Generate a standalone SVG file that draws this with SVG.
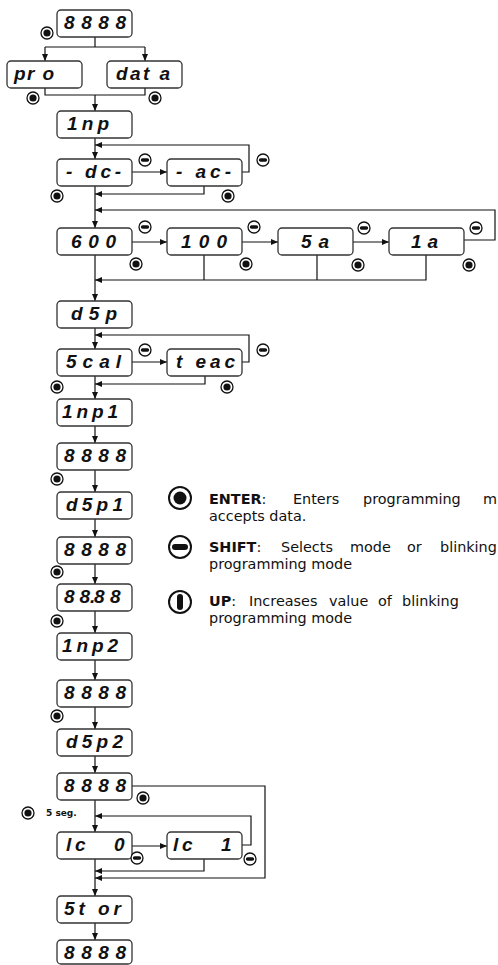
<svg xmlns="http://www.w3.org/2000/svg" width="498" height="965" viewBox="0 0 498 965">
<style>
.b{fill:#fff;stroke:#333;stroke-width:1.3}
.t{font-family:"Liberation Sans",Arial,sans-serif;font-weight:bold;font-style:italic;font-size:19px;fill:#111}
.c{fill:none;stroke:#111;stroke-width:1.2}
.ko{fill:#fff;stroke:#111;stroke-width:1.3}
.kd{fill:#111}
.lg{font-family:"DejaVu Sans",Verdana,sans-serif;font-size:14.4px;fill:#111}
.lb{font-weight:bold}
.sg{font-family:"DejaVu Sans",Verdana,sans-serif;font-size:9px;font-weight:bold;fill:#111}
</style>
<defs>
<marker id="a" markerWidth="7" markerHeight="6" refX="7" refY="3" orient="auto" markerUnits="userSpaceOnUse"><path d="M0,0 L7,3 L0,6 z" fill="#111"/></marker>
<g id="ent"><circle r="6" class="ko"/><circle r="3.6" class="kd"/></g>
<g id="sh"><circle r="6" class="ko"/><rect x="-4.2" y="-1.8" width="8.4" height="3.6" rx="1.8" class="kd"/></g>
</defs>

<g id="connectors">
<path class="c" d="M95 37 V47 M45 47 H145"/>
<path class="c" d="M45 47 V61" marker-end="url(#a)"/>
<path class="c" d="M145 47 V61" marker-end="url(#a)"/>
<path class="c" d="M45 88 V95 H145 V88"/>
<path class="c" d="M95 95 V111" marker-end="url(#a)"/>
<path class="c" d="M95 138 V159" marker-end="url(#a)"/>
<path class="c" d="M242 172 H249 V145 H95" marker-end="url(#a)"/>
<path class="c" d="M132 172 H167" marker-end="url(#a)"/>
<path class="c" d="M204 186 V194 H95" marker-end="url(#a)"/>
<path class="c" d="M95 186 V228" marker-end="url(#a)"/>
<path class="c" d="M464 240 H495 V210 H95" marker-end="url(#a)"/>
<path class="c" d="M132 242 H167" marker-end="url(#a)"/>
<path class="c" d="M242 242 H278" marker-end="url(#a)"/>
<path class="c" d="M353 242 H389" marker-end="url(#a)"/>
<path class="c" d="M204 255 V280 M317 255 V280"/>
<path class="c" d="M426 255 V280 H95" marker-end="url(#a)"/>
<path class="c" d="M95 255 V301" marker-end="url(#a)"/>
<path class="c" d="M95 328 V349" marker-end="url(#a)"/>
<path class="c" d="M242 362 H249 V335 H95" marker-end="url(#a)"/>
<path class="c" d="M132 362 H167" marker-end="url(#a)"/>
<path class="c" d="M205 376 V384 H95" marker-end="url(#a)"/>
<path class="c" d="M95 376 V399" marker-end="url(#a)"/>
<path class="c" d="M95 426 V443" marker-end="url(#a)"/>
<path class="c" d="M95 470 V492" marker-end="url(#a)"/>
<path class="c" d="M95 519 V537" marker-end="url(#a)"/>
<path class="c" d="M95 564 V584" marker-end="url(#a)"/>
<path class="c" d="M95 611 V633" marker-end="url(#a)"/>
<path class="c" d="M95 660 V680" marker-end="url(#a)"/>
<path class="c" d="M95 707 V729" marker-end="url(#a)"/>
<path class="c" d="M95 756 V773" marker-end="url(#a)"/>
<path class="c" d="M95 800 V832" marker-end="url(#a)"/>
<path class="c" d="M132 786 H265 V878 H95" marker-end="url(#a)"/>
<path class="c" d="M242 845 H251 V816 H95" marker-end="url(#a)"/>
<path class="c" d="M132 846 H167" marker-end="url(#a)"/>
<path class="c" d="M204 859 V871 H95" marker-end="url(#a)"/>
<path class="c" d="M95 859 V896" marker-end="url(#a)"/>
<path class="c" d="M95 923 V940" marker-end="url(#a)"/>
</g>

<g id="n-8888-top"><rect class="b" x="57" y="10" width="75" height="27" rx="4"/><text class="t" x="64" y="29" textLength="62">8888</text></g>
<g id="n-pro"><rect class="b" x="7" y="61" width="75" height="27" rx="4"/><text class="t" x="14" y="80" textLength="40">pr o</text></g>
<g id="n-data"><rect class="b" x="107" y="61" width="75" height="27" rx="4"/><text class="t" x="116" y="80" textLength="54">dat a</text></g>
<g id="n-1np"><rect class="b" x="57" y="111" width="75" height="27" rx="4"/><text class="t" x="67" y="130" textLength="42">1np</text></g>
<g id="n-dc"><rect class="b" x="57" y="159" width="75" height="27" rx="4"/><text class="t" x="66" y="178" textLength="55">- dc-</text></g>
<g id="n-ac"><rect class="b" x="167" y="159" width="75" height="27" rx="4"/><text class="t" x="176" y="178" textLength="55">- ac-</text></g>
<g id="n-600"><rect class="b" x="57" y="228" width="75" height="27" rx="4"/><text class="t" x="71" y="248" textLength="45">600</text></g>
<g id="n-100"><rect class="b" x="167" y="228" width="75" height="27" rx="4"/><text class="t" x="181" y="248" textLength="46">100</text></g>
<g id="n-5a"><rect class="b" x="278" y="228" width="75" height="27" rx="4"/><text class="t" x="301" y="248" textLength="28">5a</text></g>
<g id="n-1a"><rect class="b" x="389" y="228" width="75" height="27" rx="4"/><text class="t" x="411" y="248" textLength="27">1a</text></g>
<g id="n-d5p"><rect class="b" x="57" y="301" width="75" height="27" rx="4"/><text class="t" x="71" y="320" textLength="46">d5p</text></g>
<g id="n-5cal"><rect class="b" x="57" y="349" width="75" height="27" rx="4"/><text class="t" x="66" y="368" textLength="55">5cal</text></g>
<g id="n-teac"><rect class="b" x="167" y="349" width="75" height="27" rx="4"/><text class="t" x="176" y="368" textLength="59">t eac</text></g>
<g id="n-1np1"><rect class="b" x="57" y="399" width="75" height="27" rx="4"/><text class="t" x="62" y="418" textLength="56">1np1</text></g>
<g id="n-8888-b"><rect class="b" x="57" y="443" width="75" height="27" rx="4"/><text class="t" x="64" y="462" textLength="62">8888</text></g>
<g id="n-d5p1"><rect class="b" x="57" y="492" width="75" height="27" rx="4"/><text class="t" x="66" y="511" textLength="57">d5p1</text></g>
<g id="n-8888-c"><rect class="b" x="57" y="537" width="75" height="27" rx="4"/><text class="t" x="64" y="556" textLength="62">8888</text></g>
<g id="n-88-88"><rect class="b" x="57" y="584" width="75" height="27" rx="4"/><text class="t" x="64 79.5 90 94 110" y="603">88.88</text></g>
<g id="n-1np2"><rect class="b" x="57" y="633" width="75" height="27" rx="4"/><text class="t" x="62" y="652" textLength="56">1np2</text></g>
<g id="n-8888-e"><rect class="b" x="57" y="680" width="75" height="27" rx="4"/><text class="t" x="64" y="699" textLength="62">8888</text></g>
<g id="n-d5p2"><rect class="b" x="57" y="729" width="75" height="27" rx="4"/><text class="t" x="66" y="748" textLength="57">d5p2</text></g>
<g id="n-8888-f"><rect class="b" x="57" y="773" width="75" height="27" rx="4"/><text class="t" x="64" y="792" textLength="62">8888</text></g>
<g id="n-lc0"><rect class="b" x="57" y="832" width="75" height="27" rx="4"/><text class="t" x="66 75 100 114" y="851">lc 0</text></g>
<g id="n-lc1"><rect class="b" x="167" y="832" width="75" height="27" rx="4"/><text class="t" x="173 182 205 221" y="851">lc 1</text></g>
<g id="n-5tor"><rect class="b" x="57" y="896" width="75" height="27" rx="4"/><text class="t" x="64" y="915" textLength="57">5t or</text></g>
<g id="n-8888-g"><rect class="b" x="57" y="940" width="75" height="24" rx="4"/><text class="t" x="64" y="959" textLength="62">8888</text></g>

<g id="keys">
<use href="#ent" x="47" y="33"/>
<use href="#ent" x="33" y="98"/>
<use href="#ent" x="155" y="98"/>
<use href="#ent" x="57" y="196"/>
<use href="#ent" x="228" y="196"/>
<use href="#ent" x="136" y="264"/>
<use href="#ent" x="246" y="264"/>
<use href="#ent" x="358" y="265"/>
<use href="#ent" x="469" y="265"/>
<use href="#ent" x="57" y="387"/>
<use href="#ent" x="227" y="387"/>
<use href="#ent" x="57" y="479"/>
<use href="#ent" x="57" y="572"/>
<use href="#ent" x="57" y="621"/>
<use href="#ent" x="57" y="716"/>
<use href="#ent" x="143" y="798"/>
<use href="#ent" x="28" y="813"/>
<use href="#sh" x="145" y="160"/>
<use href="#sh" x="263" y="160"/>
<use href="#sh" x="145" y="227"/>
<use href="#sh" x="254" y="227"/>
<use href="#sh" x="364" y="228"/>
<use href="#sh" x="476" y="228"/>
<use href="#sh" x="145" y="350"/>
<use href="#sh" x="263" y="350"/>
<use href="#sh" x="137" y="858"/>
<use href="#sh" x="250" y="859"/>
<text class="sg" x="46" y="816">5 seg.</text>
</g>

<g id="legend">
<circle cx="180" cy="498" r="11" fill="#fff" stroke="#111" stroke-width="2"/>
<circle cx="180" cy="498" r="6.5" fill="#111"/>
<text class="lg" y="504"><tspan class="lb" x="209">ENTER</tspan>:<tspan x="293">Enters</tspan><tspan x="363">programming</tspan><tspan x="483">m</tspan></text>
<text class="lg" x="209" y="521">accepts data.</text>
<circle cx="180" cy="547" r="11" fill="#fff" stroke="#111" stroke-width="2"/>
<rect x="172" y="544" width="16" height="6" rx="3" fill="#111"/>
<text class="lg" y="552"><tspan class="lb" x="209">SHIFT</tspan>:<tspan x="281">Selects</tspan><tspan x="350">mode</tspan><tspan x="407">or</tspan><tspan x="440">blinking</tspan></text>
<text class="lg" x="209" y="569">programming mode</text>
<circle cx="180" cy="602" r="11" fill="#fff" stroke="#111" stroke-width="2"/>
<rect x="177" y="594" width="6" height="16" rx="3" fill="#111"/>
<text class="lg" y="606"><tspan class="lb" x="209">UP</tspan>:<tspan x="249">Increases</tspan><tspan x="329">value</tspan><tspan x="378">of</tspan><tspan x="402">blinking</tspan></text>
<text class="lg" x="209" y="623">programming mode</text>
</g>
</svg>
